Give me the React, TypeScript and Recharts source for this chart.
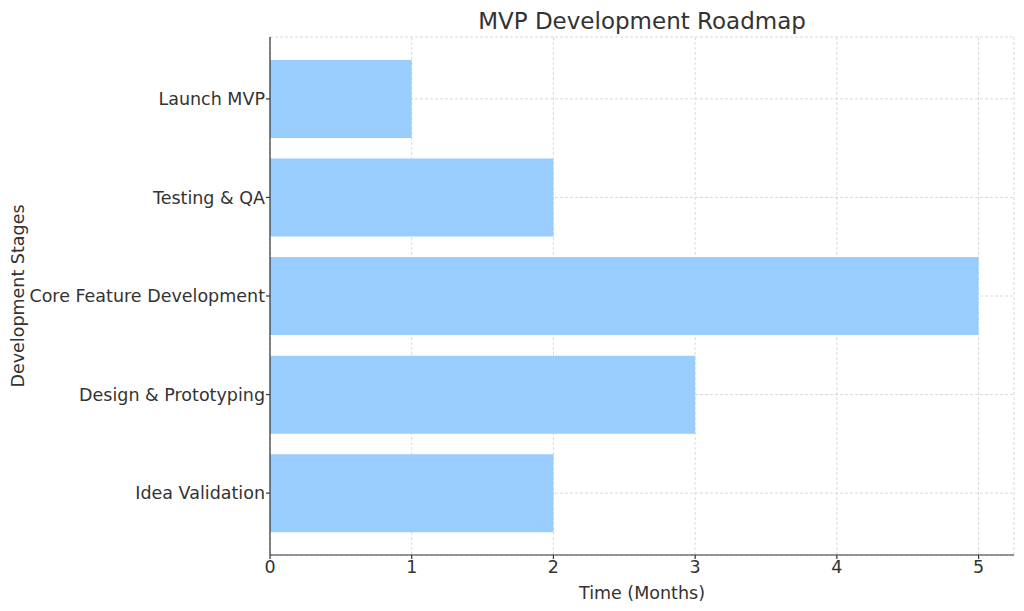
import { Bar, BarChart, CartesianGrid, Label, XAxis, YAxis } from "recharts";

const stages = [
  "Idea Validation",
  "Design & Prototyping",
  "Core Feature Development",
  "Testing & QA",
  "Launch MVP",
];
const months = [2, 3, 5, 2, 1];
const xTicks = [0, 1, 2, 3, 4, 5];

const data = stages.map((stage, i) => ({ stage, months: months[i] }));

const FONT = "'DejaVu Sans', sans-serif";
const TEXT = "#333333";

export default function App() {
  return (
    <div style={{ position: "absolute", left: 0, top: 0, background: "#fff" }}>
      <BarChart
        width={1024}
        height={611}
        data={data}
        layout="vertical"
        margin={{ top: 37, right: 10, bottom: 0, left: 0 }}
        barCategoryGap="10.5%"
        style={{ fontFamily: FONT }}
      >
        <text
          x={642}
          y={21}
          textAnchor="middle"
          dominantBaseline="central"
          fill={TEXT}
          fontSize={23}
          fontFamily={FONT}
        >
          MVP Development Roadmap
        </text>
        <CartesianGrid stroke="#d0d0d0" strokeDasharray="3 2" strokeWidth={0.8} />
        <XAxis
          type="number"
          domain={[0, 5.25]}
          ticks={xTicks}
          allowDataOverflow
          height={56}
          tickSize={4}
          tickMargin={2}
          stroke="#333"
          strokeWidth={1.2}
          tick={{ fill: TEXT, fontSize: 17.5, fontFamily: FONT }}
        >
          <Label
            value="Time (Months)"
            position="insideBottom"
            offset={12}
            fill={TEXT}
            fontSize={17.5}
            fontFamily={FONT}
          />
        </XAxis>
        <YAxis
          type="category"
          dataKey="stage"
          reversed
          width={270}
          padding={{ top: 12.6, bottom: 12.6 }}
          tickSize={4}
          tickMargin={1}
          stroke="#333"
          strokeWidth={1.2}
          tick={{ fill: TEXT, fontSize: 17.5, fontFamily: FONT }}
        >
          <Label
            value="Development Stages"
            angle={-90}
            position="insideLeft"
            offset={18}
            style={{ textAnchor: "middle" }}
            fill={TEXT}
            fontSize={17.5}
            fontFamily={FONT}
          />
        </YAxis>
        <Bar dataKey="months" fill="#99ccff" isAnimationActive={false} />
      </BarChart>
    </div>
  );
}
